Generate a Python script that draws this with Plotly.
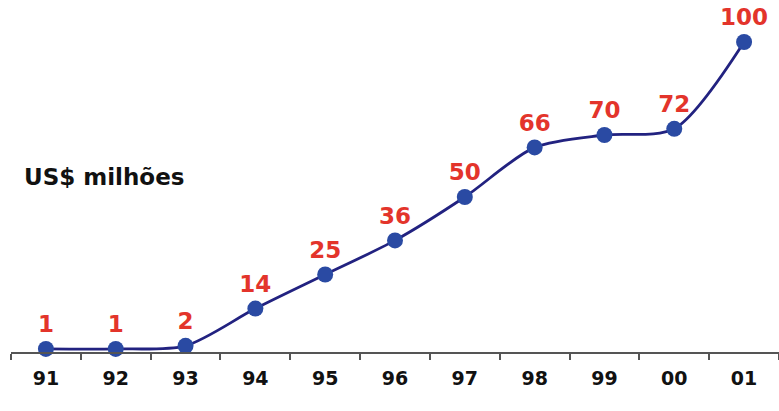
import plotly.graph_objects as go

years = ["91", "92", "93", "94", "95", "96", "97", "98", "99", "00", "01"]
values = [1, 1, 2, 14, 25, 36, 50, 66, 70, 72, 100]
labels = [str(v) for v in values]

FONT = "DejaVu Sans, Arial, sans-serif"

W, H = 779, 411
L, B = 11, 59

fig = go.Figure()
fig.add_trace(go.Scatter(
    x=years, y=values,
    mode="lines+markers+text",
    text=labels,
    textposition="top center",
    textfont=dict(family=FONT, size=23, color="#e3342b", weight="bold"),
    line=dict(color="#222280", width=2.8, shape="spline", smoothing=0.8),
    marker=dict(color="#2a4aa3", size=16, line=dict(width=0)),
    cliponaxis=False,
    showlegend=False,
    hoverinfo="skip",
))

fig.add_annotation(
    x=(22 - L) / (W - L), y=(352 - 177) / 352,
    xref="paper", yref="paper",
    text="<b>US$ milhões</b>", showarrow=False,
    xanchor="left", yanchor="middle",
    font=dict(family=FONT, size=23, color="#111111"),
)

fig.update_layout(
    width=W, height=H,
    margin=dict(l=L, r=0, t=0, b=B),
    paper_bgcolor="white", plot_bgcolor="white",
    font=dict(family=FONT),
)

fig.update_xaxes(
    type="category", range=[-0.5, 10.5],
    showline=True, linecolor="#555555", linewidth=1.5,
    ticks="outside", tickson="boundaries", ticklen=6, tickcolor="#555555", tickwidth=1.5,
    showgrid=False, zeroline=False,
    tickfont=dict(family=FONT, size=19, color="#111111", weight="bold"),
    ticklabelstandoff=8,
)
fig.update_yaxes(
    range=[0, 352 / 3.1], visible=False, showgrid=False, zeroline=False,
)

fig.write_html(
    "out.html",
    config={"displayModeBar": False},
    post_script="document.body.style.margin='0';document.body.style.overflow='hidden';",
)
